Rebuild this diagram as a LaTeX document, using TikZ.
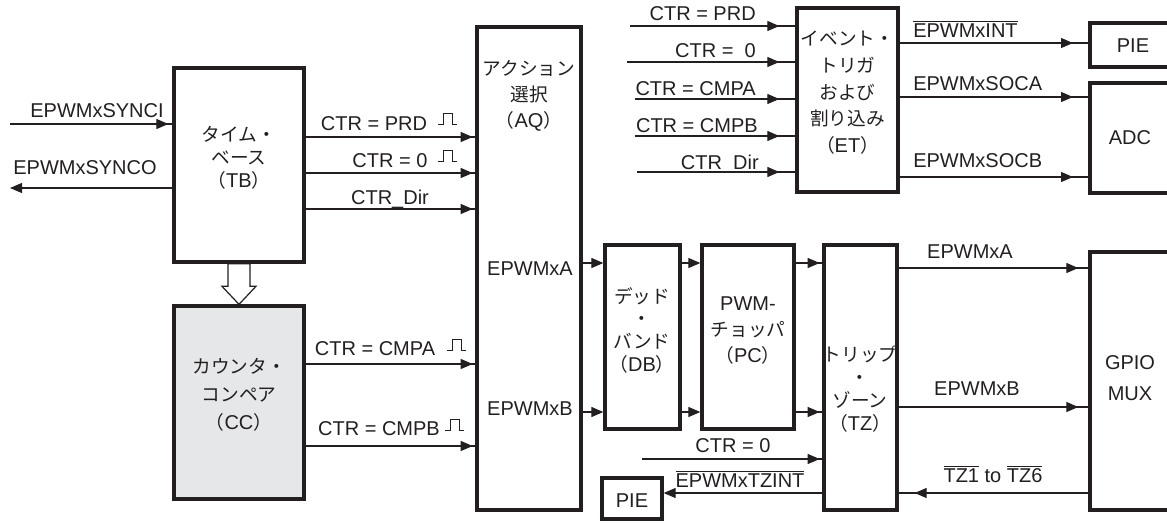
\documentclass[tikz,border=0pt]{standalone}
\usepackage{fontspec}
\setmainfont{Liberation Sans}
\newfontfamily\jpfont{Noto Sans CJK JP}
\usetikzlibrary{arrows.meta,decorations.markings,fit,calc}
\definecolor{ink}{HTML}{231F20}
\definecolor{ccgray}{HTML}{E6E7E8}
\newcommand\J[1]{{\jpfont\fontsize{14}{0}\selectfont #1}}
\newcommand\ovl[1]{$\overline{\mbox{#1}}$}
\tikzset{
  tipA/.tip={Triangle[length=9pt,width=7.5pt]},
  box/.style={draw=ink, line width=2.5pt, inner sep=0pt, align=center, text=ink},
  wire/.style={draw=ink, line width=0.9pt},
  earr/.style={wire, -tipA},
  marr/.style={wire, postaction={decorate}, decoration={markings, mark=at position -#1 with {\arrow{tipA}}}},
  marr/.default=3pt,
  lab/.style={inner sep=0pt, text=ink, anchor=base},
  labr/.style={lab, anchor=base east},
  labl/.style={lab, anchor=base west},
  txt/.style={inner sep=0pt, text=ink, align=center},
  pulse/.pic={\draw[draw=ink, line width=0.7pt] (0,0) -- (5,0) -- (5,-11) -- (14,-11) -- (14,0) -- (19,0);},
}
\begin{document}
\begin{tikzpicture}[x=0.75pt, y=-0.75pt, font=\fontsize{15}{18}\selectfont]
\clip (0,0) rectangle (1167,522);

% boxes
\node[box, fit={(174,68) (304,262)}, font=\fontsize{15}{17.25}\selectfont] (tb) {\J{タイム・}\\\J{ベース}\\\J{（}TB\J{）}};
\node[box, fill=ccgray, fit={(174,306) (304,499)}, font=\fontsize{15}{21}\selectfont] (cc) {\J{カウンタ・}\\\J{コンペア}\\\J{（}CC\J{）}};
\node[box, fit={(477,27) (581,510)}] (aq) {};
\node[box, fit={(797,8) (898,192)}, font=\fontsize{15}{20}\selectfont] (et) {\J{イベント・}\\\J{トリガ}\\\J{および}\\\J{割り込み}\\\J{（}ET\J{）}};
\node[box, fit={(1090,23) (1185,67)}] (piet) {};
\node[box, fit={(1090,83) (1185,193)}] (adc) {};
\node[box, fit={(605,245) (680,429)}] (db) {};
\node[box, fit={(702,245) (794,429)}, font=\fontsize{15}{19.5}\selectfont] (pc) {PWM-\\\J{チョッパ}\\\J{（}PC\J{）}};
\node[box, fit={(824,245) (897,510)}] (tz) {};
\node[box, fit={(1090,252) (1185,510)}] (gpio) {};
\node[box, fit={(602,478) (662,519)}] (pieb) {};

% texts inside boxes
\node[txt, font=\fontsize{15}{19.5}\selectfont] (aqt) at (529,96) {\J{アクション}\\\J{選択}\\\J{（}AQ\J{）}};
\node[lab] (aqa) at (530,275) {EPWMxA};
\node[lab] (aqb) at (530,415) {EPWMxB};
\node[txt, font=\fontsize{15}{17}\selectfont] (dbt) at (642,330) {\J{デッド}\\\J{・}\\\J{バンド}\\\J{（}DB\J{）}};
\node[txt, font=\fontsize{15}{17.25}\selectfont] (tzt) at (860,389) {\J{トリップ}\\\J{・}\\\J{ゾーン}\\\J{（}TZ\J{）}};
\node[lab] (piett) at (1133,52) {PIE};
\node[lab] (adct) at (1130,144) {ADC};
\node[lab] (gpt1) at (1130,369) {GPIO};
\node[lab] (gpt2) at (1130,400) {MUX};
\node[lab] (piebt) at (632,507) {PIE};

% hollow arrow TB -> CC
\draw[wire, fill=white] (cc.north) -- ++(-17,-18) -- ++(6,0) -- ($(tb.south)+(-11,0)$) -- ($(tb.south)+(11,0)$) -- ($(cc.north)+(11,-18)$) -- ++(6,0) -- cycle;

% coordinates
\coordinate (si) at (10,124);
\coordinate (so) at (10,188);
\coordinate (rPRD) at (0,137);
\coordinate (rZero) at (0,173);
\coordinate (rDir) at (0,209);
\coordinate (rA) at (0,364);
\coordinate (rB) at (0,446);
\coordinate (ya) at (0,263);
\coordinate (yb) at (0,412);
\coordinate (yA2) at (0,268);
\coordinate (yB2) at (0,407);
\coordinate (ytz) at (0,493);
\coordinate (c0) at (642,459);
\coordinate (e1) at (630,26);
\coordinate (e2) at (627,62);
\coordinate (e3) at (635,99);
\coordinate (e4) at (635,136);
\coordinate (e5) at (637,172);
\coordinate (o1) at (0,43);
\coordinate (o2) at (0,97);
\coordinate (o3) at (0,177);

% connectors
\draw[marr=3pt] (si) -- (tb.west |- si);
\draw[earr] (tb.west |- so) -- (so);
\foreach \rw in {rPRD,rZero,rDir} \draw[marr=2pt] (tb.east |- \rw) -- (aq.west |- \rw);
\foreach \rw in {rA,rB} \draw[marr=2pt] (cc.east |- \rw) -- (aq.west |- \rw);
\foreach \rw in {ya,yb} {
  \draw[earr] (aq.east |- \rw) -- (db.west |- \rw);
  \draw[earr] (db.east |- \rw) -- (pc.west |- \rw);
  \draw[marr=2pt] (pc.east |- \rw) -- (tz.west |- \rw);
}
\draw[marr=2pt] (c0) -- (tz.west |- c0);
\draw[earr] (tz.west |- ytz) -- (pieb.east |- ytz);
\foreach \rw in {yA2,yB2} \draw[marr=7.5pt] (tz.east |- \rw) -- (gpio.west |- \rw);
\draw[marr=12pt] (gpio.west |- ytz) -- (tz.east |- ytz);
\foreach \cw in {e1,e2,e3,e4,e5} \draw[marr=12pt] (\cw) -- (et.west |- \cw);
\draw[marr=11.5pt] (et.east |- o1) -- (piet.west |- o1);
\draw[marr=11.5pt] (et.east |- o2) -- (adc.west |- o2);
\draw[marr=11.5pt] (et.east |- o3) -- (adc.west |- o3);

% labels
\node[lab] (lsi) at (97,117) {EPWMxSYNCI};
\node[lab] (lso) at (85,174) {EPWMxSYNCO};
\node[lab] (l1) at (374,130) {CTR = PRD};
\pic at (438,124) {pulse};
\node[lab] (l2) at (390,167) {CTR = 0};
\pic at (438,161) {pulse};
\node[lab] (l3) at (390,204) {CTR\_Dir};
\node[lab] (l4) at (375,355) {CTR = CMPA};
\pic at (447,350) {pulse};
\node[lab] (l5) at (379,435) {CTR = CMPB};
\pic at (445,430) {pulse};

\node[labr] (m1) at (756,20) {CTR = PRD};
\node[labr] (m2) at (756,57) {CTR = \ 0};
\node[labr] (m3) at (756,95) {CTR = CMPA};
\node[labr] (m4) at (758,132) {CTR = CMPB};
\node[labr] (m5) at (759,169) {CTR\_Dir};

\node[labl] (n1) at (913,37) {\ovl{EPWMxINT}};
\node[labl] (n2) at (913,90) {EPWMxSOCA};
\node[labl] (n3) at (913,167) {EPWMxSOCB};

\node[lab] (p1) at (970,258) {EPWMxA};
\node[lab] (p2) at (977,395) {EPWMxB};
\node[lab] (p3) at (993,482) {\ovl{TZ1} to \ovl{TZ6}};
\node[lab] (p4) at (733,452) {CTR = 0};
\node[lab] (p5) at (740,487) {\ovl{EPWMxTZINT}};
\end{tikzpicture}
\end{document}
